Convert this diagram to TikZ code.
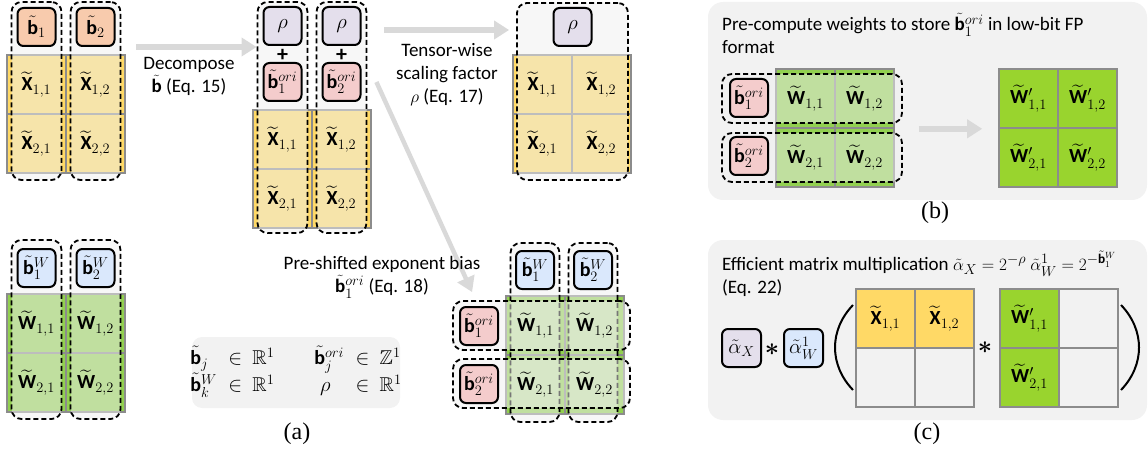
\documentclass[tikz,border=0pt]{standalone}
\usepackage{amsmath,amssymb}
\usepackage{fontspec}
\setmainfont{Carlito}
\newfontfamily\capfont{Liberation Serif}
\usetikzlibrary{arrows.meta,positioning}

\definecolor{cellgray}{HTML}{8C8C8C}
\definecolor{celly}{HTML}{FFD966}
\definecolor{cellg}{HTML}{92D050}
\definecolor{cellgg}{HTML}{99D42E}
\definecolor{keyorange}{HTML}{F8CBAD}
\definecolor{keypurple}{HTML}{E4DFEC}
\definecolor{keypink}{HTML}{F4CCCC}
\definecolor{keyblue}{HTML}{DAE8FC}
\definecolor{grpfill}{HTML}{EFEFEF}
\definecolor{panelfill}{HTML}{F2F2F2}
\definecolor{flowgray}{HTML}{D9D9D9}

\newcommand{\btil}{\tilde{\mathbf{b}}}
\newcommand{\Xtil}{\widetilde{\mathbf{X}}}
\newcommand{\Wtil}{\widetilde{\mathbf{W}}}

\tikzset{
  cell/.style={draw=cellgray, line width=1.6pt, minimum size=59pt, inner sep=0pt, font=\fontsize{20}{24}\selectfont},
  ycell/.style={cell, fill=celly},
  gcell/.style={cell, fill=cellg},
  wcell/.style={cell, fill=cellgg},
  celltext/.style={inner sep=0pt, font=\fontsize{20}{24}\selectfont},
  key/.style={draw=black, line width=2pt, rounded corners=6pt, minimum size=38pt, inner sep=0pt, font=\fontsize{20}{24}\selectfont},
  grp/.style={draw=black, line width=1.8pt, dash pattern=on 5pt off 3pt, rounded corners=10pt, fill=grpfill, fill opacity=0.5, inner sep=0pt},
  flow/.style={draw=flowgray, line width=6pt, -{Triangle[length=15pt,width=18pt]}},
  lbl/.style={font=\fontsize{19}{23}\selectfont, align=center, inner sep=0pt},
  panel/.style={fill=panelfill, rounded corners=15pt, inner sep=0pt},
  captext/.style={font=\capfont\fontsize{24}{28}\selectfont, inner sep=0pt}
}

\begin{document}
\begin{tikzpicture}[x=1pt,y=-1pt]
  \useasboundingbox (0,0) rectangle (1148,457);

  \foreach \row in {1,2}
    \foreach \col in {1,2}
      \node[ycell] (xa\row\col) at ({36.5+59*(\col-1)},{84.5+59*(\row-1)}) {};
  \node[grp, minimum width=50pt, minimum height=178pt] (lgA) at (36.5,91) {};
  \node[grp, minimum width=50pt, minimum height=178pt] (lgB) at (95.5,91) {};
  \foreach \row in {1,2}
    \foreach \col in {1,2}
      \node[celltext] (xa\row\col t) at (xa\row\col) {$\Xtil_{\row,\col}$};
  \node[key, fill=keyorange] (ba1) at (36.5,27) {$\btil_1$};
  \node[key, fill=keyorange] (ba2) at (95.5,27) {$\btil_2$};

  \foreach \row in {1,2}
    \foreach \col in {1,2}
      \node[gcell] (wa\row\col) at ({36.5+59*(\col-1)},{323.5+59*(\row-1)}) {};
  \node[grp, minimum width=50pt, minimum height=179pt] (lwA) at (36.5,329.5) {};
  \node[grp, minimum width=50pt, minimum height=179pt] (lwB) at (95.5,329.5) {};
  \foreach \row in {1,2}
    \foreach \col in {1,2}
      \node[celltext] (wa\row\col t) at (wa\row\col) {$\Wtil_{\row,\col}$};
  \node[key, fill=keyblue] (bwa1) at (36.5,268) {$\btil_1^W$};
  \node[key, fill=keyblue] (bwa2) at (95.5,268) {$\btil_2^W$};

  \foreach \row in {1,2}
    \foreach \col in {1,2}
      \node[ycell] (xm\row\col) at ({282.5+59*(\col-1)},{139.5+59*(\row-1)}) {};
  \node[grp, minimum width=50pt, minimum height=231pt] (mgA) at (282.5,117.5) {};
  \node[grp, minimum width=50pt, minimum height=231pt] (mgB) at (341.5,117.5) {};
  \foreach \row in {1,2}
    \foreach \col in {1,2}
      \node[celltext] (xm\row\col t) at (xm\row\col) {$\Xtil_{\row,\col}$};
  \node[key, fill=keypurple] (rhoA) at (282.5,26) {$\rho$};
  \node[key, fill=keypurple] (rhoB) at (341.5,26) {$\rho$};
  \node[lbl, font=\bfseries\fontsize{22}{22}\selectfont] (plusA) at (282.5,55) {+};
  \node[lbl, font=\bfseries\fontsize{22}{22}\selectfont] (plusB) at (341.5,55) {+};
  \node[key, fill=keypink] (boriA) at (282.5,82) {$\btil_1^{ori}$};
  \node[key, fill=keypink] (boriB) at (341.5,82) {$\btil_2^{ori}$};

  \foreach \row in {1,2}
    \foreach \col in {1,2}
      \node[ycell] (xr\row\col) at ({542.5+59*(\col-1)},{84.5+59*(\row-1)}) {};
  \node[grp, minimum width=111pt, minimum height=177pt] (rg) at (572.5,91.5) {};
  \foreach \row in {1,2}
    \foreach \col in {1,2}
      \node[celltext] (xr\row\col t) at (xr\row\col) {$\Xtil_{\row,\col}$};
  \node[key, fill=keypurple] (rhoR) at (572.5,27) {$\rho$};

  \foreach \row in {1,2}
    \foreach \col in {1,2}
      \node[gcell] (wr\row\col) at ({535.5+59*(\col-1)},{325.5+59*(\row-1)}) {};
  \node[grp, minimum width=49pt, minimum height=179pt] (cgA) at (535,332.5) {};
  \node[grp, minimum width=49pt, minimum height=179pt] (cgB) at (593,332.5) {};
  \node[grp, minimum width=177pt, minimum height=49pt] (rwA) at (541.5,325.5) {};
  \node[grp, minimum width=177pt, minimum height=49pt] (rwB) at (541.5,383.5) {};
  \foreach \row in {1,2}
    \foreach \col in {1,2}
      \node[celltext] (wr\row\col t) at (wr\row\col) {$\Wtil_{\row,\col}$};
  \node[key, fill=keyblue] (bwr1) at (535,270) {$\btil_1^W$};
  \node[key, fill=keyblue] (bwr2) at (593,270) {$\btil_2^W$};
  \node[key, fill=keypink] (borr1) at (479,326) {$\btil_1^{ori}$};
  \node[key, fill=keypink] (borr2) at (479,384) {$\btil_2^{ori}$};

  \draw[flow, shorten <=15pt] (lgB.east |- ba2.south) -- (mgA.west |- ba2.south);
  \node[lbl] (decomp) at (189,76) {Decompose\\$\btil$ (Eq. 15)};
  \draw[flow, shorten <=17pt, shorten >=7pt] ([yshift=-4pt]rhoB.center -| mgB.east) -- ([yshift=-4pt]rhoB.center -| rg.west);
  \node[lbl] (tensor) at (447,75) {Tensor-wise\\scaling factor\\$\rho$ (Eq. 17)};
  \draw[flow, line width=4.5pt] ([xshift=9pt]mgB.east |- boriB.center) -- ([xshift=20pt,yshift=8pt]rwA.north west);
  \node[lbl] (preshift) at (382,277) {Pre-shifted exponent bias\\$\btil_1^{ori}$ (Eq. 18)};

  \node[panel, fill=panelfill, rounded corners=10pt, minimum width=208pt, minimum height=71pt] (legend) at (296,372.5) {};
  \node[celltext] (legendt) at (legend) {$\begin{array}{@{}l@{\;\;}l@{\qquad}l@{\;\;}l@{}}
      \btil_j & \in\ \mathbb{R}^1 & \btil_j^{ori} & \in\ \mathbb{Z}^1\\
      \btil_k^W & \in\ \mathbb{R}^1 & \;\rho & \in\ \mathbb{R}^1
    \end{array}$};
  \node[captext] (capa) at (297,434) {(a)};

  \node[panel, minimum width=439pt, minimum height=198pt] (pb) at (927.5,101) {};
  \node[lbl, align=left, anchor=north west] (pbt) at (722,13) {Pre-compute weights to store $\btil_1^{ori}$ in low-bit FP\\format};
  \foreach \row in {1,2}
    \foreach \col in {1,2}
      \node[gcell] (wb\row\col) at ({805.5+59*(\col-1)},{98.5+59*(\row-1)}) {};
  \node[grp, minimum width=180pt, minimum height=49pt] (rbA) at (812,98.5) {};
  \node[grp, minimum width=180pt, minimum height=49pt] (rbB) at (812,157.5) {};
  \foreach \row in {1,2}
    \foreach \col in {1,2}
      \node[celltext] (wb\row\col t) at (wb\row\col) {$\Wtil_{\row,\col}$};
  \node[key, fill=keypink] (borb1) at (749,98) {$\btil_1^{ori}$};
  \node[key, fill=keypink] (borb2) at (749,156) {$\btil_2^{ori}$};
  \foreach \row in {1,2}
    \foreach \col in {1,2}
      \node[wcell] (wpb\row\col) at ({1028.5+59*(\col-1)},{98.5+59*(\row-1)}) {${\Wtil'}_{\row,\col}$};
  \draw[flow, shorten <=16pt, shorten >=16pt] (rbA.east |- wpb11.south) -- (wpb11.south west);
  \node[captext] (capb) at (935,213) {(b)};

  \node[panel, minimum width=439pt, minimum height=180pt] (pc) at (927.5,330) {};
  \node[lbl, align=left, anchor=north west] (pct) at (722,251) {Efficient matrix multiplication $\tilde{\alpha}_X = 2^{-\rho}\ \tilde{\alpha}_W^1 = 2^{-\btil_1^W}$\\(Eq. 22)};
  \node[key, fill=keypurple, minimum width=39pt] (alx) at (741.5,348) {$\tilde{\alpha}_X$};
  \node[lbl, font=\fontsize{26}{26}\selectfont] (starA) at (772,350) {$\boldsymbol{*}$};
  \node[key, fill=keyblue, minimum width=39pt] (alw) at (803.5,348) {$\tilde{\alpha}_W^1$};
  \foreach \col in {1,2} {
    \node[ycell] (xc1\col) at ({885.5+59*(\col-1)},318.5) {$\Xtil_{1,\col}$};
    \node[cell] (xc2\col) at ({885.5+59*(\col-1)},377.5) {};
  }
  \node[lbl, font=\fontsize{26}{26}\selectfont] (starB) at (985,348) {$\boldsymbol{*}$};
  \foreach \row in {1,2} {
    \node[wcell] (wpc\row1) at (1029.5,{318.5+59*(\row-1)}) {${\Wtil'}_{\row,1}$};
    \node[cell] (wpc\row2) at (1088.5,{318.5+59*(\row-1)}) {};
  }
  \draw[line width=2pt] (853,305) .. controls (829,330) and (829,365) .. (853,390);
  \draw[line width=2pt] (1121,305) .. controls (1145,330) and (1145,365) .. (1121,390);
  \node[captext] (capc) at (927,434) {(c)};
\end{tikzpicture}
\end{document}
